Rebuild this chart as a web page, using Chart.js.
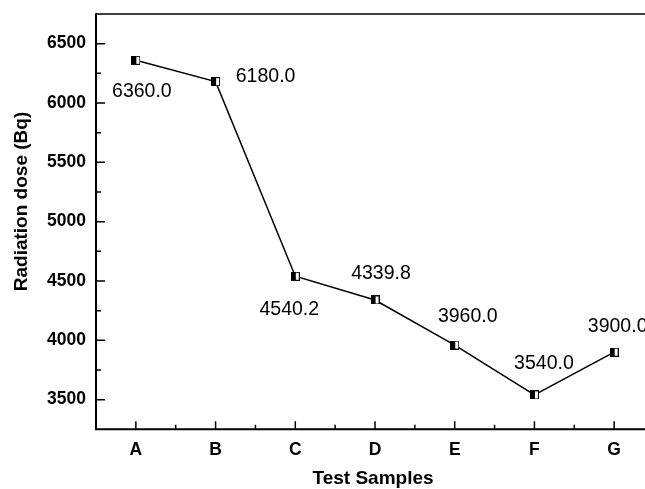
<!DOCTYPE html>
<html><head><meta charset="utf-8">
<script src="https://cdn.jsdelivr.net/npm/chart.js@4.4.0/dist/chart.umd.min.js"></script>
<style>html,body{margin:0;padding:0;background:#fff;overflow:hidden}#wrap{width:645px;height:489px;position:relative}</style>
</head><body><div id="wrap"><canvas id="c" width="645" height="489"></canvas></div>
<script>
// ---- data ----
const categories = ['A', 'B', 'C', 'D', 'E', 'F', 'G'];
const doseValues = [6360.0, 6180.0, 4540.2, 4339.8, 3960.0, 3540.0, 3900.0];
const yTickValues = [3500, 4000, 4500, 5000, 5500, 6000, 6500];
const yMinorTickValues = [3750, 4250, 4750, 5250, 5750, 6250];
const xMinorTickValues = [0.5, 1.5, 2.5, 3.5, 4.5, 5.5];
const xTitle = 'Test Samples';
const yTitle = 'Radiation dose (Bq)';

// ---- styles / label placement (offsets from each point, px) ----
const labelOffsets = [[6, 31], [50, -5], [-6, 33], [6, -26], [13, -28], [9.5, -31], [3.5, -26]];
const FONT = '"Liberation Sans", Arial, Helvetica, sans-serif';

function makeMarker() {
  const s = 9;
  const c = document.createElement('canvas');
  c.width = s; c.height = s;
  const g = c.getContext('2d');
  g.fillStyle = '#fff'; g.fillRect(0, 0, s, s);
  g.fillStyle = '#000'; g.fillRect(0, 0, 5, s);
  g.strokeStyle = '#000'; g.lineWidth = 1; g.strokeRect(0.5, 0.5, s - 1, s - 1);
  return c;
}
const marker = makeMarker();

const framePlugin = {
  id: 'frame',
  afterDatasetsDraw(chart) {
    const ctx = chart.ctx;
    const a = chart.chartArea;
    const xs = chart.scales.x, ys = chart.scales.y;
    ctx.save();
    ctx.strokeStyle = '#000';
    ctx.lineCap = 'butt';
    ctx.lineWidth = 1.5;
    ctx.beginPath(); ctx.moveTo(a.left, a.top); ctx.lineTo(chart.width, a.top); ctx.stroke();
    ctx.lineWidth = 2;
    ctx.beginPath();
    ctx.moveTo(a.left, a.top - 0.75); ctx.lineTo(a.left, a.bottom); ctx.lineTo(chart.width, a.bottom);
    ctx.stroke();
    ctx.lineWidth = 1.5;
    ctx.beginPath();
    yTickValues.forEach(v => { const y = ys.getPixelForValue(v); ctx.moveTo(a.left, y); ctx.lineTo(a.left + 9, y); });
    yMinorTickValues.forEach(v => { const y = ys.getPixelForValue(v); ctx.moveTo(a.left, y); ctx.lineTo(a.left + 5, y); });
    categories.forEach((c, i) => { const x = xs.getPixelForValue(i); ctx.moveTo(x, a.bottom); ctx.lineTo(x, a.bottom - 8); });
    xMinorTickValues.forEach(v => { const x = xs.getPixelForValue(v); ctx.moveTo(x, a.bottom); ctx.lineTo(x, a.bottom - 4.5); });
    ctx.stroke();
    ctx.fillStyle = '#000';
    ctx.font = 'bold 19px ' + FONT;
    ctx.textAlign = 'center'; ctx.textBaseline = 'middle';
    ctx.fillText(xTitle, 373, 479);
    ctx.save();
    ctx.translate(22, 201.5); ctx.rotate(-Math.PI / 2);
    ctx.fillText(yTitle, 0, 0);
    ctx.restore();
    const meta = chart.getDatasetMeta(0);
    ctx.font = '19.5px ' + FONT;
    meta.data.forEach((pt, i) => {
      const [dx, dy] = labelOffsets[i];
      ctx.fillText(doseValues[i].toFixed(1), pt.x + dx, pt.y + dy);
    });
    ctx.restore();
  }
};

Chart.defaults.color = '#000';
new Chart(document.getElementById('c'), {
  type: 'line',
  data: {
    datasets: [{
      data: doseValues.map((v, i) => ({ x: i, y: v })),
      borderColor: '#000',
      borderWidth: 1.5,
      pointStyle: marker,
      pointRadius: 4.5,
      tension: 0,
      clip: false
    }]
  },
  options: {
    responsive: false,
    animation: false,
    devicePixelRatio: 1,
    layout: { autoPadding: false, padding: { top: 14, left: 0, right: 0, bottom: 0 } },
    plugins: { legend: { display: false }, tooltip: { enabled: false } },
    scales: {
      x: {
        type: 'linear',
        min: -0.5,
        max: 6.387,
        grid: { display: false, drawTicks: false },
        border: { display: false },
        afterBuildTicks: s => { s.ticks = categories.map((c, i) => ({ value: i })); },
        afterFit: s => { s.height = 59.7; s.paddingLeft = 0; s.paddingRight = 0; s.paddingTop = 0; s.paddingBottom = 0; },
        ticks: {
          autoSkip: false,
          maxRotation: 0,
          padding: 10,
          font: { family: FONT, size: 17.5, weight: 'bold' },
          callback: v => categories[v]
        }
      },
      y: {
        min: 3250,
        max: 6750,
        grid: { display: false, drawTicks: false },
        border: { display: false },
        afterBuildTicks: s => { s.ticks = yTickValues.map(v => ({ value: v })); },
        afterFit: s => { s.width = 96; s.paddingLeft = 0; s.paddingRight = 0; s.paddingTop = 0; s.paddingBottom = 0; },
        ticks: {
          padding: 10,
          font: { family: FONT, size: 17.5, weight: 'bold' },
          callback: v => String(v)
        }
      }
    }
  },
  plugins: [framePlugin]
});
</script>
</body></html>
